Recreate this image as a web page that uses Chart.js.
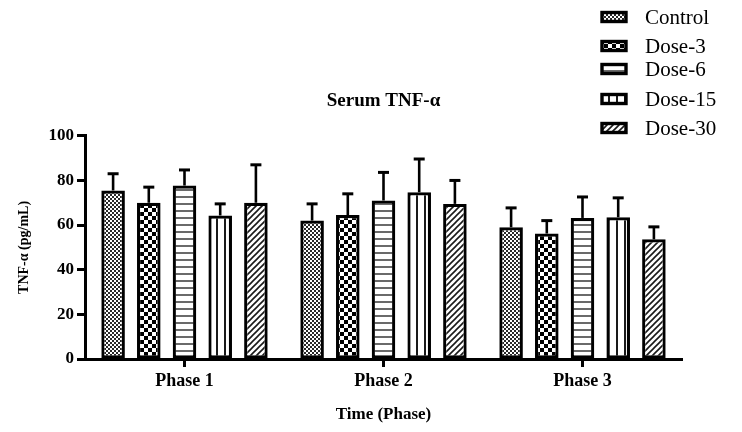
<!DOCTYPE html>
<html>
<head>
<meta charset="utf-8">
<script src="https://cdn.jsdelivr.net/npm/chart.js@4/dist/chart.umd.min.js"></script>
<style>
  html, body { margin: 0; padding: 0; background: #ffffff; }
  #wrap { width: 742px; height: 432px; }
</style>
</head>
<body>
<div id="wrap"><canvas id="chart" width="742" height="432"></canvas></div>
<script>
// Serum TNF-α by phase and dose group (mean and SD, pg/mL)
const phases = ['Phase 1', 'Phase 2', 'Phase 3'];
const groups = ['Control', 'Dose-3', 'Dose-6', 'Dose-15', 'Dose-30'];

const controlMean = [75.5, 62.0, 59.0];
const controlSD   = [7.5, 7.5, 8.7];
const dose3Mean   = [70.0, 64.5, 56.2];
const dose3SD     = [7.0, 9.5, 5.8];
const dose6Mean   = [77.7, 71.0, 63.2];
const dose6SD     = [7.0, 12.6, 9.4];
const dose15Mean  = [64.3, 74.7, 63.5];
const dose15SD    = [5.2, 14.9, 8.7];
const dose30Mean  = [70.0, 69.5, 53.6];
const dose30SD    = [17.0, 10.5, 5.6];

const yTicks = [0, 20, 40, 60, 80, 100];

const SERIF = '"Liberation Serif", "Times New Roman", serif';

// ---- fill patterns ----
function makePattern(w, h, paint) {
  const c = document.createElement('canvas');
  c.width = w; c.height = h;
  const g = c.getContext('2d');
  g.fillStyle = '#ffffff';
  g.fillRect(0, 0, w, h);
  paint(g, w, h);
  return document.getElementById('chart').getContext('2d').createPattern(c, 'repeat');
}

const fineChecker = makePattern(4, 4, (g) => {
  g.fillStyle = '#2a2a2a';
  g.fillRect(0, 0, 2, 2);
  g.fillRect(2, 2, 2, 2);
});
const coarseChecker = makePattern(8, 8, (g) => {
  g.fillStyle = '#000000';
  g.fillRect(0, 0, 4, 4);
  g.fillRect(4, 4, 4, 4);
});
const hLines = makePattern(7, 7, (g) => {
  g.fillStyle = '#6a6a6a';
  g.fillRect(0, 0, 7, 2);
});
const vLines = makePattern(8, 8, (g) => {
  g.fillStyle = '#1a1a1a';
  g.fillRect(0, 0, 2, 8);
});
const diagLines = makePattern(6, 6, (g, w, h) => {
  g.strokeStyle = '#1a1a1a';
  g.lineWidth = 1.6;
  g.beginPath();
  g.moveTo(-1, h + 1); g.lineTo(w + 1, -1);
  g.moveTo(-2, 2); g.lineTo(2, -2);
  g.moveTo(w - 2, h + 2); g.lineTo(w + 2, h - 2);
  g.stroke();
});

const fills = [fineChecker, coarseChecker, hLines, vLines, diagLines];
const means = [controlMean, dose3Mean, dose6Mean, dose15Mean, dose30Mean];
const sds = [controlSD, dose3SD, dose6SD, dose15SD, dose30SD];

const datasets = groups.map((name, i) => ({
  label: name,
  data: means[i],
  sd: sds[i],
  backgroundColor: fills[i],
  borderColor: '#000000',
  borderWidth: 3.2,
  borderSkipped: false,
  categoryPercentage: 0.897,
  barPercentage: 0.66
}));

// Upward-only SD whiskers with a short cap
const errorBars = {
  id: 'errorBars',
  afterDatasetsDraw(chart) {
    const ctx = chart.ctx;
    const y = chart.scales.y;
    chart.data.datasets.forEach((ds, i) => {
      const meta = chart.getDatasetMeta(i);
      meta.data.forEach((bar, j) => {
        const top = y.getPixelForValue(ds.data[j] + ds.sd[j]);
        ctx.save();
        ctx.strokeStyle = '#000000';
        ctx.lineCap = 'butt';
        ctx.lineWidth = 2.6;
        ctx.beginPath();
        ctx.moveTo(bar.x, bar.y);
        ctx.lineTo(bar.x, top);
        ctx.stroke();
        ctx.lineWidth = 3;
        ctx.beginPath();
        ctx.moveTo(bar.x - 5.5, top);
        ctx.lineTo(bar.x + 5.5, top);
        ctx.stroke();
        ctx.restore();
      });
    });
  }
};

// Stacked legend in the top-right corner
const legendRows = [17, 46, 69, 99, 128];
const sideLegend = {
  id: 'sideLegend',
  afterDraw(chart) {
    const ctx = chart.ctx;
    ctx.save();
    chart.data.datasets.forEach((ds, i) => {
      const cy = legendRows[i];
      const bx = 602, bw = 24, bh = 9;
      ctx.fillStyle = ds.backgroundColor;
      ctx.fillRect(bx, cy - bh / 2, bw, bh);
      ctx.strokeStyle = '#000000';
      ctx.lineWidth = 3.4;
      ctx.strokeRect(bx, cy - bh / 2, bw, bh);
      ctx.fillStyle = '#000000';
      ctx.font = '21px ' + SERIF;
      ctx.textAlign = 'left';
      ctx.textBaseline = 'middle';
      ctx.fillText(ds.label, 645, cy + 1);
    });
    ctx.restore();
  }
};

new Chart(document.getElementById('chart'), {
  type: 'bar',
  data: { labels: phases, datasets },
  plugins: [errorBars, sideLegend],
  options: {
    responsive: false,
    animation: false,
    events: [],
    layout: { padding: { top: 90, right: 60, left: 0, bottom: 0 } },
    plugins: {
      legend: { display: false },
      tooltip: { enabled: false },
      title: {
        display: true,
        text: 'Serum TNF-α',
        fullSize: false,
        color: '#000000',
        font: { family: SERIF, size: 19, weight: 'bold' },
        padding: { top: 0, bottom: 23 }
      }
    },
    scales: {
      x: {
        offset: true,
        grid: {
          offset: false,
          drawOnChartArea: false,
          drawTicks: true,
          tickLength: 8,
          tickWidth: 3,
          tickColor: '#000000'
        },
        border: { display: true, color: '#000000', width: 3 },
        ticks: {
          color: '#000000',
          padding: 4,
          font: { family: SERIF, size: 18, weight: 'bold' }
        },
        title: {
          display: true,
          text: 'Time (Phase)',
          color: '#000000',
          font: { family: SERIF, size: 17, weight: 'bold' },
          padding: { top: 0, bottom: 7 }
        },
        afterFit(scale) { scale.height = 73; }
      },
      y: {
        min: 0,
        max: 100,
        afterBuildTicks(scale) { scale.ticks = yTicks.map(v => ({ value: v })); },
        grid: {
          drawOnChartArea: false,
          drawTicks: true,
          tickLength: 8,
          tickWidth: 3,
          tickColor: '#000000'
        },
        border: { display: true, color: '#000000', width: 3 },
        ticks: {
          color: '#000000',
          padding: 3,
          font: { family: SERIF, size: 17, weight: 'bold' }
        },
        title: {
          display: true,
          text: 'TNF-α (pg/mL)',
          color: '#000000',
          font: { family: SERIF, size: 14, weight: 'bold' },
          padding: { top: 16, bottom: 0 }
        },
        afterFit(scale) { scale.width = 85; }
      }
    }
  }
});
</script>
</body>
</html>
